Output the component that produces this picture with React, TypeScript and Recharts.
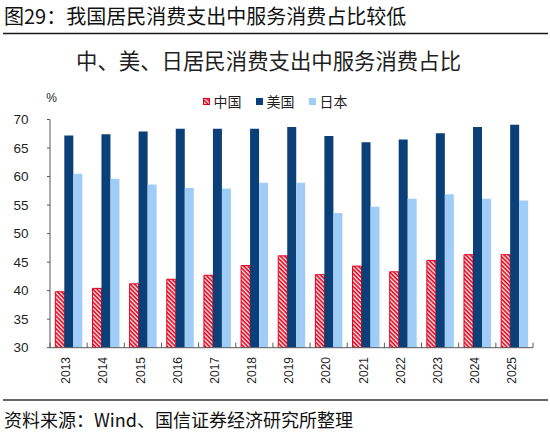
import React from 'react';
import { BarChart, Bar, XAxis, YAxis, Legend } from 'recharts';

const years = ['2013', '2014', '2015', '2016', '2017', '2018', '2019', '2020', '2021', '2022', '2023', '2024', '2025'];
const chinaShare = [39.8, 40.4, 41.2, 42.0, 42.7, 44.4, 46.1, 42.8, 44.3, 43.3, 45.3, 46.3, 46.3];
const usShare = [67.2, 67.4, 67.9, 68.4, 68.4, 68.4, 68.7, 67.1, 66.0, 66.5, 67.6, 68.7, 69.1];
const japanShare = [60.5, 59.6, 58.6, 58.0, 57.9, 58.9, 58.9, 53.6, 54.7, 56.1, 56.9, 56.1, 55.8];
const yTicks = [30, 35, 40, 45, 50, 55, 60, 65, 70];
const seriesOrder = ['china', 'us', 'japan'];

const data = years.map((year, i) => ({
  year,
  china: chinaShare[i],
  us: usShare[i],
  japan: japanShare[i],
}));

const RED = '#e2001a';
const NAVY = '#0a3f78';
const LIGHT = '#a0cdf7';
const AXIS = '#595959';
const TEXT = '#1f1f1f';
const CJK = '"Noto Sans CJK SC", "Noto Sans", sans-serif';
const LATIN = '"Liberation Sans", Arial, sans-serif';

function XTick(props: any) {
  const { x, y, payload, index, visibleTicksCount } = props;
  const off = payload && typeof payload.offset === 'number' ? payload.offset : 0;
  const lx = x + 1.7;
  const ly = y + 9.3;
  return (
    <g>
      <line x1={x - off} x2={x - off} y1={y} y2={y - 5} stroke={AXIS} strokeWidth={1} />
      {index === visibleTicksCount - 1 && (
        <line x1={x + off} x2={x + off} y1={y} y2={y - 5} stroke={AXIS} strokeWidth={1} />
      )}
      <text
        x={lx}
        y={ly}
        transform={`rotate(-90 ${lx} ${ly})`}
        textAnchor="end"
        fontSize={12}
        fill={TEXT}
        fontFamily={LATIN}
      >
        {payload.value}
      </text>
    </g>
  );
}

function LegendContent(props: any) {
  const items = [...(props.payload || [])].sort(
    (a: any, b: any) => seriesOrder.indexOf(a.dataKey) - seriesOrder.indexOf(b.dataKey)
  );
  return (
    <div
      style={{
        display: 'flex',
        justifyContent: 'center',
        alignItems: 'center',
        gap: 14,
        height: 18,
        fontFamily: CJK,
        fontSize: 14,
        color: TEXT,
        lineHeight: '18px',
      }}
    >
      {items.map((item: any) => (
        <div key={item.dataKey} style={{ display: 'flex', alignItems: 'center' }}>
          <svg width={7} height={7} style={{ marginRight: 4, display: 'block' }}>
            <defs>
              <pattern id="legendHatch" patternUnits="userSpaceOnUse" width="3" height="3" patternTransform="rotate(-45)">
                <rect width="3" height="3" fill={RED} />
                <rect width="1.3" height="3" fill="#ffffff" />
              </pattern>
            </defs>
            {item.dataKey === 'china' ? (
              <rect x={0.5} y={0.5} width={6} height={6} fill="url(#legendHatch)" stroke={RED} strokeWidth={1} />
            ) : (
              <rect x={0} y={0} width={7} height={7} fill={item.color} />
            )}
          </svg>
          <span>{item.value}</span>
        </div>
      ))}
    </div>
  );
}

export default function App() {
  return (
    <div
      style={{
        position: 'absolute',
        left: 0,
        top: 0,
        width: 550,
        height: 434,
        background: '#ffffff',
        overflow: 'hidden',
      }}
    >
      <BarChart
        width={550}
        height={434}
        data={data}
        margin={{ top: 119.5, right: 17, bottom: 46.3, left: 0 }}
        barCategoryGap="14.3%"
        barGap={0}
      >
        <defs>
          <pattern id="cnHatch" patternUnits="userSpaceOnUse" width="3" height="3" patternTransform="rotate(-45)">
            <rect width="3" height="3" fill={RED} />
            <rect width="1.3" height="3" fill="#ffffff" />
          </pattern>
        </defs>
        <XAxis
          dataKey="year"
          height={40}
          tickSize={0}
          tickMargin={0}
          interval={0}
          axisLine={{ stroke: AXIS, strokeWidth: 1 }}
          tickLine={false}
          tick={(p: any) => <XTick {...p} />}
        />
        <YAxis
          type="number"
          domain={[30, 70]}
          ticks={yTicks}
          interval={0}
          allowDataOverflow
          width={50}
          tickSize={3}
          tickMargin={18.5}
          axisLine={{ stroke: AXIS, strokeWidth: 1 }}
          tickLine={{ stroke: AXIS, strokeWidth: 1 }}
          tick={{ fontSize: 13.5, fill: TEXT, fontFamily: LATIN }}
        />
        <Legend
          verticalAlign="middle"
          align="center"
          layout="horizontal"
          content={(p: any) => <LegendContent {...p} />}
          wrapperStyle={{ top: 92, left: 0, width: 550, height: 18 }}
        />
        <Bar dataKey="china" name="中国" fill="url(#cnHatch)" stroke={RED} strokeWidth={1} isAnimationActive={false} legendType="square" />
        <Bar dataKey="us" name="美国" fill={NAVY} isAnimationActive={false} legendType="square" />
        <Bar dataKey="japan" name="日本" fill={LIGHT} isAnimationActive={false} legendType="square" />
      </BarChart>
      <svg
        width={550}
        height={434}
        style={{ position: 'absolute', left: 0, top: 0, pointerEvents: 'none' }}
      >
        <text x={4} y={23.5} fontSize={20} fontFamily={CJK} fill="#111111">
          图29：我国居民消费支出中服务消费占比较低
        </text>
        <line x1={3} x2={548} y1={33.5} y2={33.5} stroke="#1a1a1a" strokeWidth={1.5} />
        <text x={76} y={69} fontSize={21.4} fontFamily={CJK} fill={TEXT}>
          中、美、日居民消费支出中服务消费占比
        </text>
        <text x={51.5} y={102} textAnchor="middle" fontSize={12} fontFamily={LATIN} fill={TEXT}>
          %
        </text>
        <line x1={3} x2={548} y1={400} y2={400} stroke="#333333" strokeWidth={1.5} />
        <text x={4} y={427} fontSize={18} fontFamily={CJK} fill="#111111">
          资料来源：Wind、国信证券经济研究所整理
        </text>
      </svg>
    </div>
  );
}
